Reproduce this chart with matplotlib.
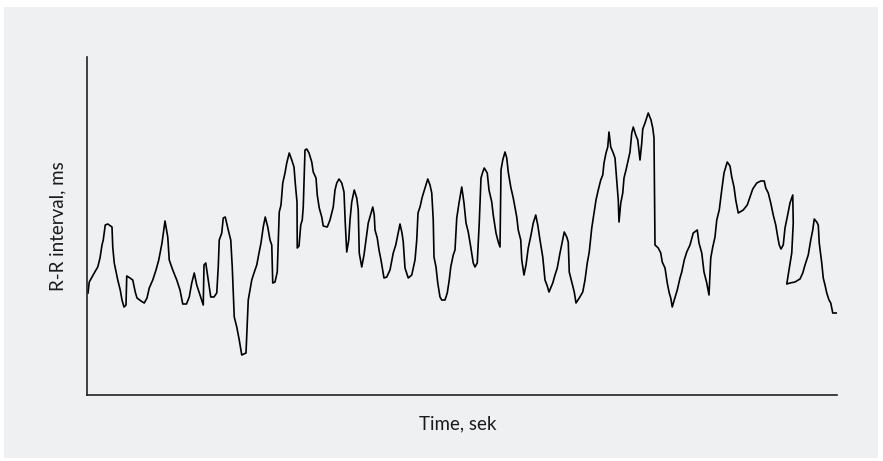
import matplotlib
matplotlib.use("Agg")
import matplotlib.pyplot as plt
from matplotlib.patches import Rectangle

matplotlib.rcParams.update({'font.family': 'Lato'})

# R-R interval series: time in seconds, interval in ms
time_s = [0.4, 0.9, 2.9, 4.3, 5.2, 6.0, 6.5, 7.3, 8.3, 10.0, 10.3, 10.9, 12.3, 13.3, 14.0, 14.8,
          15.6, 15.9, 17.2, 18.3, 19.3, 20.0, 21.6, 22.9, 24.0, 24.9, 26.3, 27.6, 28.7, 30.0,
          31.2, 32.3, 32.9, 34.3, 35.9, 37.2, 38.3, 39.8, 40.9, 41.9, 42.9, 43.9, 45.2, 46.5,
          46.8, 47.5, 48.5, 49.5, 50.8, 51.9, 52.5, 52.9, 53.9, 54.5, 55.3, 56.5, 57.5, 58.1,
          58.9, 59.9, 60.9, 61.9, 63.6, 64.5, 65.9, 66.8, 67.9, 68.8, 69.6, 70.5, 71.3, 72.3,
          73.2, 73.9, 74.3, 75.2, 76.1, 76.9, 77.6, 78.3, 79.2, 79.9, 80.9, 81.9, 82.8, 83.3,
          84.0, 84.1, 84.8, 85.5, 86.1, 86.5, 87.2, 87.9, 88.8, 89.9, 90.5, 91.6, 92.1, 92.9,
          93.9, 94.5, 96.1, 97.2, 98.5, 99.2, 99.9, 100.8, 101.9, 102.8, 103.3, 103.9, 104.7,
          105.2, 105.9, 106.9, 107.9, 108.5, 108.9, 109.9, 110.8, 111.6, 112.5, 113.6, 114.3,
          114.9, 115.2, 116.1, 116.8, 117.6, 118.8, 119.9, 121.2, 122.5, 123.5, 124.3, 125.2,
          126.0, 126.5, 127.2, 128.5, 129.9, 131.2, 131.9, 132.4, 133.2, 134.1, 135.2, 136.3,
          137.2, 137.9, 138.5, 138.8, 139.6, 140.3, 141.2, 141.9, 143.2, 144.1, 144.9, 145.5,
          146.5, 147.2, 147.9, 148.8, 149.9, 150.8, 151.6, 152.5, 153.5, 154.5, 155.2, 156.1,
          156.9, 157.6, 158.3, 158.9, 160.1, 160.8, 161.9, 162.5, 163.6, 164.5, 165.2, 165.6,
          166.3, 167.2, 167.9, 168.5, 169.5, 170.5, 171.9, 172.5, 173.5, 173.9, 174.8, 175.6,
          176.5, 177.6, 178.5, 179.5, 180.3, 181.2, 182.3, 183.2, 184.1, 184.8, 186.3, 187.2,
          188.1, 189.2, 190.1, 190.9, 191.9, 192.5, 192.9, 193.9, 194.9, 195.6, 196.9, 198.3,
          199.2, 200.1, 200.9, 201.9, 202.8, 203.6, 204.5, 205.5, 206.3, 206.8, 207.6, 208.3,
          208.8, 209.5, 210.5, 211.2, 211.9, 212.5, 212.8, 213.5, 214.3, 214.8, 215.6, 216.5,
          217.2, 217.9, 218.5, 219.5, 220.3, 220.9, 221.2, 221.9, 222.3, 223.2, 224.5, 225.6,
          226.3, 226.8, 227.2, 228.5, 229.5, 230.1, 231.2, 232.1, 232.9, 233.5, 234.1, 234.9,
          236.1, 237.2, 237.9, 238.9, 239.9, 241.2, 242.5, 244.1, 244.8, 245.9, 246.8, 247.9,
          248.8, 249.5, 250.3, 251.2, 251.9, 252.9, 253.9, 254.8, 256.1, 257.2, 257.9, 258.8,
          259.5, 260.5, 262.5, 264.1, 265.2, 266.3, 267.9, 269.5, 270.9, 271.5, 272.5, 273.5,
          274.5, 275.5, 276.3, 276.9, 277.6, 278.5, 279.2, 280.1, 281.2, 282.3, 282.5, 281.9,
          279.9, 281.2, 283.2, 285.2, 286.3, 287.2, 288.5, 289.5, 290.3, 290.9, 291.9, 292.5,
          292.9, 293.9, 294.5, 295.2, 295.9, 296.8, 297.5, 298.3, 299.9]

rr_ms = [707, 718, 727, 733, 742, 755, 760, 775, 776, 773, 753, 737, 720, 710, 700, 693,
         695, 724, 722, 720, 708, 702, 699, 697, 702, 712, 720, 730, 740, 757,
         779, 763, 740, 730, 720, 710, 696, 696, 703, 717, 727, 715, 705, 695,
         735, 737, 720, 703, 703, 707, 733, 760, 767, 782, 783, 770, 760, 733,
         683, 673, 660, 645, 647, 700, 720, 727, 735, 747, 757, 773, 783, 773,
         760, 755, 717, 718, 728, 788, 795, 817, 827, 837, 847, 840, 833, 817,
         798, 752, 754, 775, 780, 793, 850, 851, 847, 838, 828, 822, 805, 792,
         783, 774, 773, 780, 793, 810, 817, 821, 817, 808, 777, 748, 760,
         780, 798, 810, 802, 790, 747, 733, 745, 760, 777, 787, 793,
         785, 770, 762, 750, 740, 722, 723, 730, 747, 755, 765, 776,
         767, 758, 732, 722, 725, 740, 760, 787, 793, 803, 812, 821,
         815, 807, 780, 743, 733, 717, 703, 700, 700, 707, 720, 733,
         745, 750, 782, 797, 813, 797, 777, 768, 753, 737, 733, 737,
         777, 822, 828, 832, 827, 810, 798, 785, 767, 758, 753, 830,
         840, 848, 842, 828, 813, 802, 783, 770, 760, 740, 725, 735,
         752, 765, 777, 785, 775, 760, 743, 720, 714, 708, 717, 725,
         732, 747, 758, 768, 763, 758, 728, 718, 708, 697, 702, 708,
         720, 737, 748, 772, 787, 800, 810, 820, 825, 837, 847, 853,
         868, 853, 847, 842, 820, 800, 778, 797, 807, 822, 830, 840,
         848, 867, 873, 865, 860, 847, 840, 857, 871, 877, 887, 880,
         872, 862, 755, 752, 747, 738, 732, 717, 707, 702, 693, 700,
         710, 722, 728, 740, 748, 755, 767, 770, 757, 747, 728, 717,
         705, 742, 753, 763, 780, 790, 810, 827, 838, 834, 823, 813,
         800, 787, 790, 795, 803, 811, 817, 819, 819, 812, 807, 797,
         785, 775, 763, 755, 751, 755, 772, 783, 797, 805, 777, 747,
         716, 717, 718, 721, 727, 735, 745, 760, 770, 781, 778, 775,
         757, 737, 722, 715, 707, 700, 697, 687, 687]

fig = plt.figure(figsize=(8.83, 4.61), dpi=100, facecolor='white')
# light grey panel behind the chart
fig.patches.append(Rectangle((4 / 883, 3 / 461), 874 / 883, 451 / 461,
                             transform=fig.transFigure, facecolor='#eff0f2',
                             edgecolor='none', zorder=-10))

ax = fig.add_axes([87 / 883, 66 / 461, 750 / 883, 338 / 461])
ax.set_facecolor('none')
ax.plot(time_s, rr_ms, color='black', linewidth=1.2, solid_joinstyle='round')

ax.set_xlim(0, 300)
ax.set_ylim(605, 943)
ax.set_xticks([])
ax.set_yticks([])
for side in ['top', 'right']:
    ax.spines[side].set_visible(False)
for side in ['left', 'bottom']:
    ax.spines[side].set_color('#222222')
    ax.spines[side].set_linewidth(1.2)

fig.text(458 / 883, 1 - 424 / 461, "Time, sek", ha='center', va='center',
         fontsize=13.5, color='#1a1a1a')
fig.text(58 / 883, 1 - 226 / 461, "R-R interval, ms", ha='center', va='center',
         rotation=90, fontsize=13.5, color='#1a1a1a')

fig.savefig("out.png", dpi=100, facecolor='white')
